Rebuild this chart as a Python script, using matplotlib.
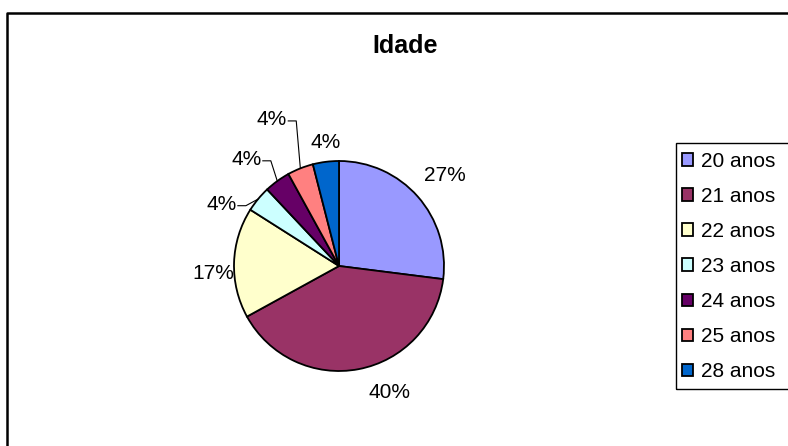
import matplotlib
matplotlib.use("Agg")
import matplotlib.pyplot as plt
import numpy as np
from matplotlib.patches import Rectangle

plt.rcParams['font.family'] = ['Liberation Sans', 'DejaVu Sans']

# data
ages = ['20 anos', '21 anos', '22 anos', '23 anos', '24 anos', '25 anos', '28 anos']
pcts = [27, 40, 17, 4, 4, 4, 4]
colors = ['#9999FF', '#993366', '#FFFFCC', '#CCFFFF', '#660066', '#FF8080', '#0066CC']

# label placement: (angle nudge in degrees, distance in radii), and which get a leader line
label_nudge = [(-1, 1.33), (11, 1.30), (5, 1.20), (12, 1.26), (5, 1.34), (3, 1.53), (-1, 1.18)]
leader = [False, False, False, True, True, True, False]

W, H = 788, 446
fig = plt.figure(figsize=(W / 100, H / 100), dpi=100)
ax = fig.add_axes([0, 0, 1, 1])

cx, cy, r = 339, H - 266, 105
wedges, _ = ax.pie(pcts, colors=colors, startangle=90, counterclock=False,
                   center=(cx, cy), radius=r,
                   wedgeprops=dict(edgecolor='black', linewidth=1.3))
ax.set_xlim(0, W)
ax.set_ylim(0, H)
ax.set_aspect('equal')
ax.axis('off')

# percentage labels
texts = []
for w, p, (nudge, dist) in zip(wedges, pcts, label_nudge):
    mid = np.deg2rad((w.theta1 + w.theta2) / 2 + nudge)
    t = ax.text(cx + dist * r * np.cos(mid), cy + dist * r * np.sin(mid), f'{p}%',
                fontsize=15, ha='center', va='center')
    texts.append(t)

fig.canvas.draw()
for w, t, has_line in zip(wedges, texts, leader):
    if not has_line:
        continue
    bb = t.get_window_extent().transformed(ax.transData.inverted())
    ym = (bb.y0 + bb.y1) / 2 - 1
    mid = np.deg2rad((w.theta1 + w.theta2) / 2)
    ex, ey = cx + r * np.cos(mid), cy + r * np.sin(mid)
    ax.plot([bb.x1 + 1, bb.x1 + 9, ex], [ym, ym, ey], color='black', lw=0.8)

ax.text(405, H - 46, 'Idade', fontsize=18, fontweight='bold', ha='center', va='center')

# outer chart frame
ax.plot([7.5, 7.5, W + 5], [-5, H - 13, H - 13], color='black', lw=1.8, clip_on=False)

# legend
ax.add_patch(Rectangle((676, H - 389), 200, 246, fill=False, ec='black', lw=1))
ax.legend(wedges, ages, loc='upper left', bbox_to_anchor=(682, H - 152),
          bbox_transform=ax.transData, frameon=False, fontsize=15,
          handlelength=0.55, handleheight=0.55, handletextpad=0.35,
          labelspacing=0.77, borderpad=0, borderaxespad=0)

fig.savefig('out.png', dpi=100)
